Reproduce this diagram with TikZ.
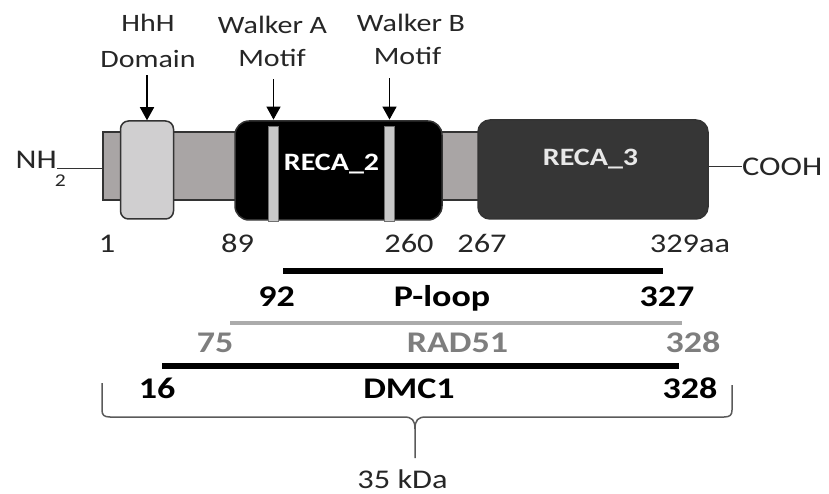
\documentclass[tikz,border=0pt]{standalone}
\usepackage{fontspec}
\setmainfont{Carlito}[FakeStretch=1.2]
\usetikzlibrary{arrows.meta}
\definecolor{barc}{HTML}{A9A5A5}
\definecolor{hhhc}{HTML}{D0CFD0}
\definecolor{edgec}{HTML}{333333}
\definecolor{stripec}{HTML}{C8C8C8}
\definecolor{reca3c}{HTML}{363636}
\definecolor{txtc}{HTML}{262626}
\definecolor{radline}{HTML}{ABABAB}
\definecolor{radtxt}{HTML}{7E7E7E}
\definecolor{bracec}{HTML}{5A5A5A}
\definecolor{reca3t}{HTML}{E8E8E8}
\begin{document}
\begin{tikzpicture}[x=1pt,y=-1pt,
  lbl/.style={font=\fontsize{25}{30}\selectfont, text=txtc, inner sep=0pt, anchor=base},
  num/.style={font=\fontsize{27}{30}\selectfont, text=txtc, inner sep=0pt, anchor=base},
  bnum/.style={font=\bfseries\fontsize{30}{34}\selectfont, text=black, inner sep=0pt, anchor=base},
  gnum/.style={font=\bfseries\fontsize{30}{34}\selectfont, text=radtxt, inner sep=0pt, anchor=base},
  barbox/.style={draw=edgec, line width=1.3pt, fill=barc, inner sep=0pt},
  hhhbox/.style={draw=edgec, line width=1.5pt, fill=hhhc, rounded corners=8pt, inner sep=0pt},
  recabox/.style={draw=edgec, line width=1.5pt, inner sep=0pt},
  stripe/.style={draw=edgec!70, line width=0.8pt, fill=stripec, inner sep=0pt, minimum width=10pt, minimum height=95pt},
  arr/.style={draw=black, line width=1.5pt, -{Triangle[width=14pt,length=13pt]}},
  domlbl/.style={font=\bfseries\fontsize{25}{30}\selectfont, inner sep=0pt, anchor=base},
  brace/.style={draw=bracec, line width=1.5pt},
]
\path[use as bounding box] (0,0) rectangle (829,494);

% backbone bar and domains
\node[barbox, minimum width=377pt, minimum height=68pt] (bar) at (291.5,166) {};
\node[hhhbox, minimum width=53pt, minimum height=98pt] (hhh) at (147,170) {};
\node[recabox, fill=black, rounded corners=14pt, minimum width=207pt, minimum height=99pt] (reca2) at (338.5,170.5) {};
\node[recabox, fill=reca3c, rounded corners=12pt, minimum width=230pt, minimum height=99pt] (reca3) at (593,169.5) {};
\node[stripe] (wa) at (273.5,173.5) {};
\node[stripe] (wb) at (389.5,173.5) {};
\node[domlbl, text=white] (reca2t) at (331.5,171) {RECA\_2};
\node[domlbl, text=reca3t] (reca3t) at (590.5,166) {RECA\_3};

% termini
\node[num, anchor=east] (nh) at (57,168.5) {NH\rlap{\kern-2pt\raisebox{-18pt}{\fontsize{18}{18}\selectfont 2}}};
\node[num, anchor=west] (cooh) at (742,166.5) {COOH};
\draw[line width=1.2pt, edgec] (nh.east) -- (bar.west |- nh.east);
\draw[line width=1.2pt, edgec] (reca3.east |- cooh.west) -- (cooh.west);

% top labels and arrows
\node[lbl] (hhhl1) at (148,32) {HhH};
\node[lbl] (hhhl2) at (148,67.5) {Domain};
\node[lbl] (wal1) at (272.5,34) {Walker A};
\node[lbl] (wal2) at (272,67) {Motif};
\node[lbl] (wbl1) at (411,32) {Walker B};
\node[lbl] (wbl2) at (407.5,65) {Motif};
\draw[arr, shorten <=7.5pt] (hhh.north |- hhhl2.south) -- (hhh.north);
\draw[arr, shorten <=12pt] (wa.north |- wal2.south) -- ([yshift=6pt]wa.north);
\draw[arr, shorten <=13pt] (wb.north |- wbl2.south) -- ([yshift=6pt]wb.north);

% residue numbers
\node[num] (n1) at (107,252) {1};
\node[num] (n89) at (237.5,252) {89};
\node[num] (n260) at (409,252) {260};
\node[num] (n267) at (482,252) {267};
\node[num] (n329) at (690,252) {329aa};

% P-loop
\draw[line width=6pt] (283,271) -- (663,271);
\node[bnum] (p92) at (276.5,306) {92};
\node[bnum] (ploop) at (442,306) {P-loop};
\node[bnum] (p327) at (667,306) {327};

% RAD51
\draw[line width=4pt, radline] (230,323) -- (682,323);
\node[gnum] (r75) at (215,352) {75};
\node[gnum] (rad) at (457.5,352) {RAD51};
\node[gnum] (r328) at (693,352) {328};

% DMC1
\draw[line width=6pt] (162,366) -- (679,366);
\node[bnum] (d16) at (157,398) {16};
\node[bnum] (dmc) at (409,398) {DMC1};
\node[bnum] (d328) at (690,398) {328};

% brace
\draw[brace] (102,383) -- (102,410) .. controls (102,415) and (104,417) .. (110,417)
  -- (404,417) .. controls (412,417) and (415,420) .. (415,429) -- (415,458);
\draw[brace] (415,429) .. controls (415,420) and (418,417) .. (426,417)
  -- (724,417) .. controls (730,417) and (732,415) .. (732,410) -- (732,385);
\node[num] (kda) at (402.5,488) {35 kDa};
\end{tikzpicture}
\end{document}
